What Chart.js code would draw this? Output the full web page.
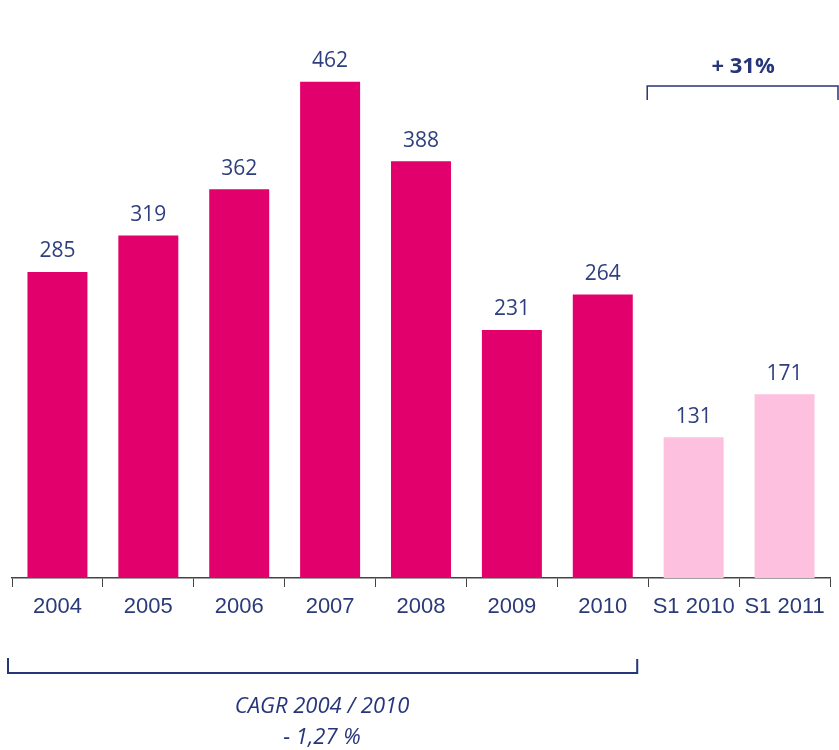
<!DOCTYPE html>
<html>
<head>
<meta charset="utf-8">
<script src="https://cdn.jsdelivr.net/npm/chart.js@4"></script>
<style>
  html, body { margin: 0; padding: 0; background: #fff; }
  #wrap { width: 839px; height: 750px; }
</style>
</head>
<body>
<div id="wrap"><canvas id="grafico"></canvas></div>
<script>
const categories = ['2004', '2005', '2006', '2007', '2008', '2009', '2010', 'S1 2010', 'S1 2011'];
const values = [285, 319, 362, 462, 388, 231, 264, 131, 171];
const barColors = ['#e2006d', '#e2006d', '#e2006d', '#e2006d', '#e2006d', '#e2006d', '#e2006d', '#fdc0de', '#fdc0de'];
const cagrLines = ['CAGR 2004 / 2010', '- 1,27 %'];
const growthLabel = '+ 31%';

const navy = '#27357a';

// étiquettes de valeur au-dessus des barres + accolades
const annotations = {
  id: 'annotations',
  afterDatasetsDraw(chart) {
    const ctx = chart.ctx;
    const meta = chart.getDatasetMeta(0);
    const x = chart.scales.x;
    ctx.save();
    ctx.fillStyle = '#2e3f7f';
    ctx.font = '21px "Open Sans", sans-serif';
    ctx.textAlign = 'center';
    ctx.textBaseline = 'bottom';
    meta.data.forEach((bar, i) => {
      ctx.fillText(values[i], bar.x, bar.y - 10);
    });

    const half = (x.getPixelForValue(1) - x.getPixelForValue(0)) / 2;
    const edge6 = x.getPixelForValue(6) + half;

    // accolade du bas (2004-2010)
    ctx.strokeStyle = navy;
    ctx.lineWidth = 2;
    ctx.beginPath();
    ctx.moveTo(x.left - 4, 658);
    ctx.lineTo(x.left - 4, 673);
    ctx.lineTo(edge6 - 11, 673);
    ctx.lineTo(edge6 - 11, 659);
    ctx.stroke();

    // accolade du haut (S1)
    ctx.lineWidth = 1.5;
    ctx.beginPath();
    ctx.moveTo(edge6 - 1, 100);
    ctx.lineTo(edge6 - 1, 86);
    ctx.lineTo(838, 86);
    ctx.lineTo(838, 100);
    ctx.stroke();

    ctx.fillStyle = navy;
    ctx.font = 'bold 22px "Open Sans", sans-serif';
    ctx.textBaseline = 'middle';
    ctx.fillText(growthLabel, (edge6 + 838) / 2, 67);

    ctx.font = 'italic 22px "Open Sans", sans-serif';
    ctx.fillText(cagrLines[0], 322, 707);
    ctx.fillText(cagrLines[1], 322, 738);
    ctx.restore();
  }
};

new Chart(document.getElementById('grafico'), {
  type: 'bar',
  data: {
    labels: categories,
    datasets: [{
      data: values,
      backgroundColor: barColors,
      borderWidth: 0,
      categoryPercentage: 1,
      barPercentage: 0.66
    }]
  },
  options: {
    responsive: true,
    maintainAspectRatio: false,
    animation: false,
    layout: { padding: { left: 12, right: 9, top: 41, bottom: 0 } },
    plugins: {
      legend: { display: false },
      tooltip: { enabled: false }
    },
    scales: {
      x: {
        afterFit(scale) { scale.height = 172; },
        grid: {
          offset: true,
          drawOnChartArea: false,
          drawTicks: true,
          tickLength: 9,
          color: '#444'
        },
        border: { color: '#444', width: 1.5 },
        ticks: {
          color: '#2b3a78',
          font: { family: '"Liberation Sans", Arial, sans-serif', size: 22 },
          padding: 7,
          maxRotation: 0,
          autoSkip: false
        }
      },
      y: {
        display: false,
        min: 0,
        max: 500
      }
    }
  },
  plugins: [annotations]
});
</script>
</body>
</html>
